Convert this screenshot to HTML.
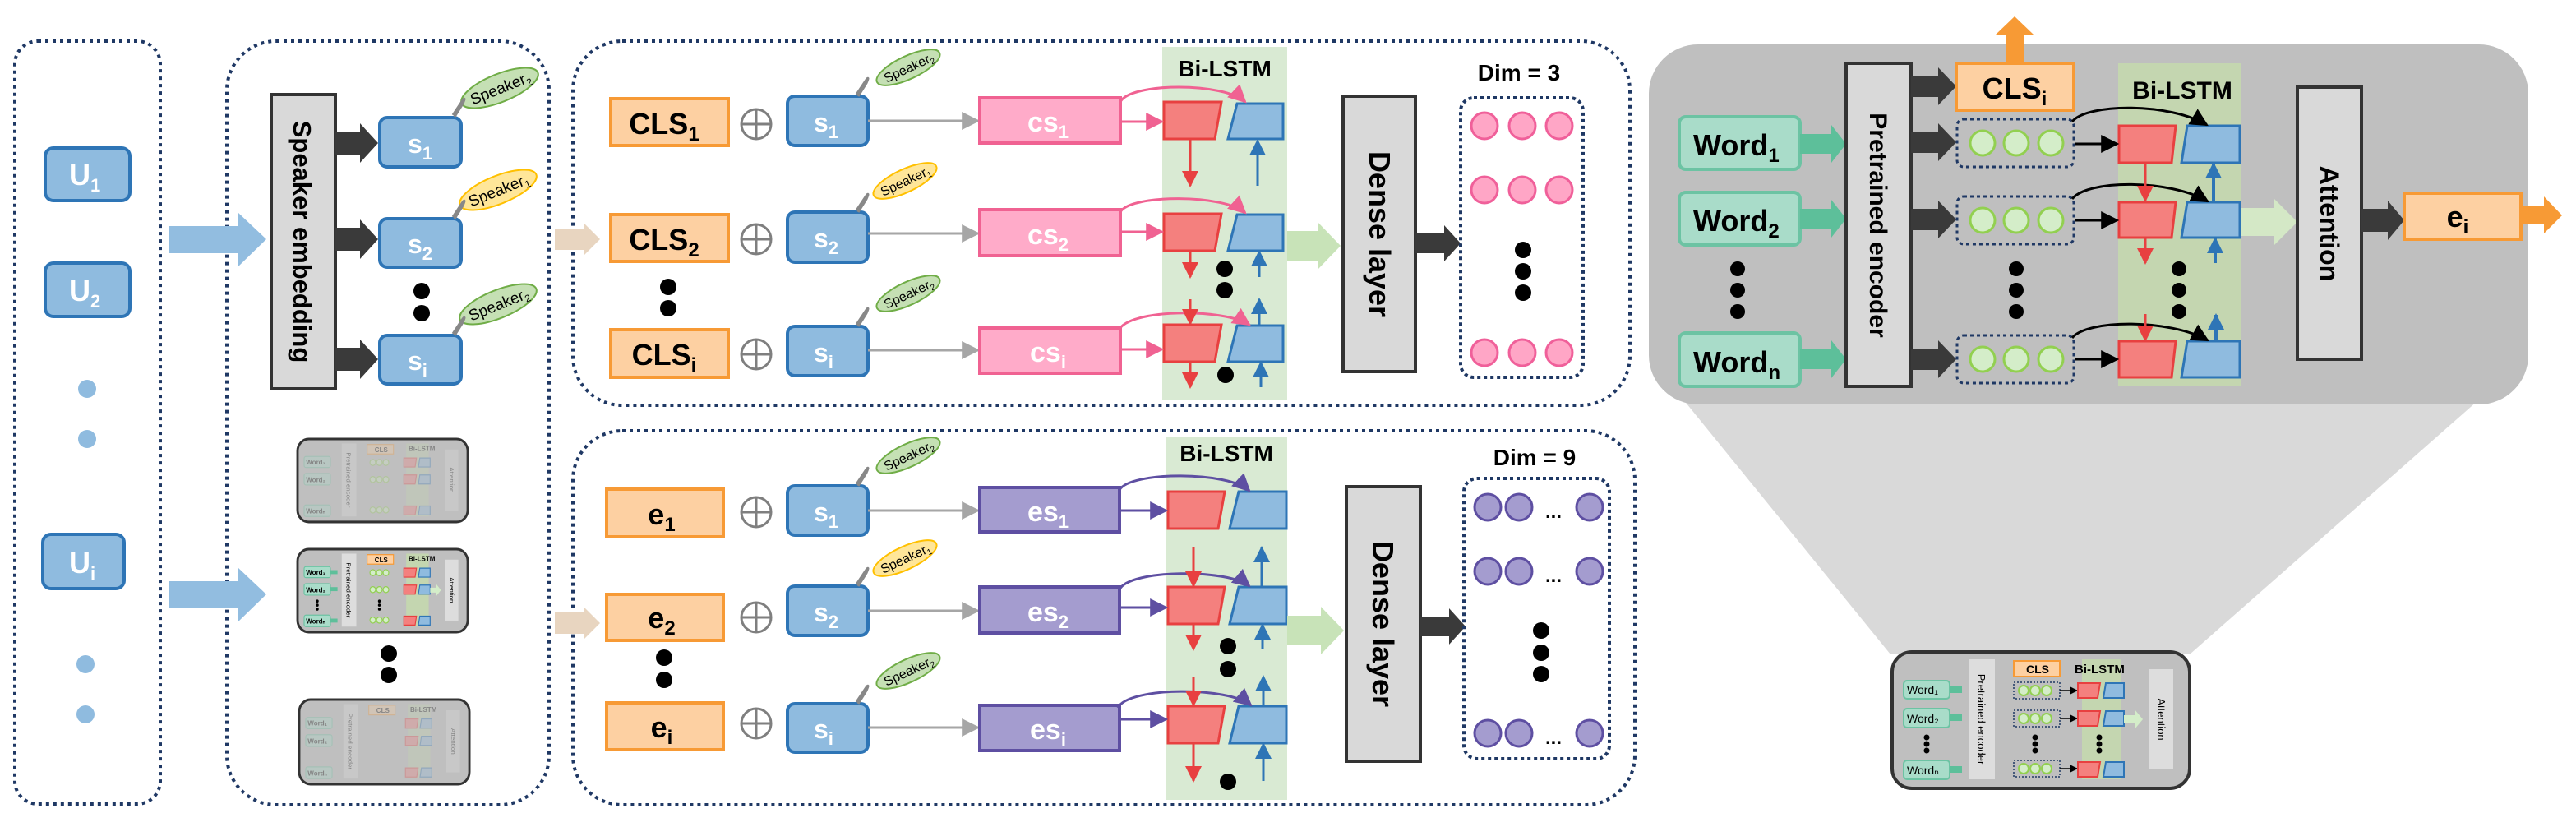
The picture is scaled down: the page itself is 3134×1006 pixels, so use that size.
<!DOCTYPE html>
<html><head><meta charset="utf-8"><style>
html,body{margin:0;padding:0;background:#fff;}
svg{display:block;font-family:"Liberation Sans",sans-serif;}
.b{font-weight:bold;}
</style></head><body>
<svg width="3134" height="1006" viewBox="0 0 3134 1006" xmlns="http://www.w3.org/2000/svg">
<defs>
<marker id="mg" markerWidth="8" markerHeight="8" refX="7" refY="4" orient="auto" markerUnits="userSpaceOnUse"><path d="M0,0 L0,0" /></marker>
<marker id="ag" viewBox="0 0 10 10" refX="9" refY="5" markerWidth="22" markerHeight="22" orient="auto" markerUnits="userSpaceOnUse"><path d="M0,0 L10,5 L0,10 z" fill="#a6a6a6"/></marker>
<marker id="ap" viewBox="0 0 10 10" refX="9" refY="5" markerWidth="22" markerHeight="22" orient="auto" markerUnits="userSpaceOnUse"><path d="M0,0 L10,5 L0,10 z" fill="#f06292"/></marker>
<marker id="au" viewBox="0 0 10 10" refX="9" refY="5" markerWidth="22" markerHeight="22" orient="auto" markerUnits="userSpaceOnUse"><path d="M0,0 L10,5 L0,10 z" fill="#5e4fa2"/></marker>
<marker id="ar" viewBox="0 0 10 10" refX="9" refY="5" markerWidth="20" markerHeight="20" orient="auto" markerUnits="userSpaceOnUse"><path d="M0,0 L10,5 L0,10 z" fill="#e84040"/></marker>
<marker id="ab" viewBox="0 0 10 10" refX="9" refY="5" markerWidth="20" markerHeight="20" orient="auto" markerUnits="userSpaceOnUse"><path d="M0,0 L10,5 L0,10 z" fill="#2e75b6"/></marker>
<marker id="ak" viewBox="0 0 10 10" refX="9" refY="5" markerWidth="22" markerHeight="22" orient="auto" markerUnits="userSpaceOnUse"><path d="M0,0 L10,5 L0,10 z" fill="#000"/></marker>
<marker id="ak2" viewBox="0 0 10 10" refX="9" refY="5" markerWidth="10" markerHeight="10" orient="auto" markerUnits="userSpaceOnUse"><path d="M0,0 L10,5 L0,10 z" fill="#000"/></marker>
</defs>

<!-- dotted containers -->
<g fill="none" stroke="#1f3864" stroke-width="4" stroke-dasharray="4,5">
<rect x="18" y="50" width="177" height="928" rx="28"/>
<rect x="276" y="50" width="392" height="929" rx="60"/>
<rect x="697" y="50" width="1286" height="443" rx="60"/>
<rect x="697" y="524" width="1292" height="455" rx="60"/>
</g>

<!-- U column -->
<g fill="#8fbbdf" stroke="#2e75b6" stroke-width="4">
<rect x="55" y="180" width="103" height="64" rx="10"/>
<rect x="55" y="320" width="103" height="65" rx="10"/>
<rect x="52" y="650" width="99" height="66" rx="10"/>
</g>
<g fill="#fff" class="b" font-size="36">
<text x="84" y="225">U<tspan font-size="22" dy="8">1</tspan></text>
<text x="84" y="366">U<tspan font-size="22" dy="8">2</tspan></text>
<text x="84" y="697">U<tspan font-size="22" dy="8">i</tspan></text>
</g>
<g fill="#8fbbdf">
<circle cx="106" cy="473" r="11"/><circle cx="106" cy="534" r="11"/>
<circle cx="104" cy="808" r="11"/><circle cx="104" cy="869" r="11"/>
</g>
<g fill="#92bde0">
<polygon points="205,275 289,275 289,258 324,291 289,325 289,308 205,308"/>
<polygon points="205,707 289,707 289,690 324,723 289,757 289,740 205,740"/>
</g>

<!-- Speaker embedding -->
<rect x="330" y="115" width="78" height="358" fill="#d9d9d9" stroke="#333" stroke-width="4"/>
<text transform="translate(357,294) rotate(90)" text-anchor="middle" class="b" font-size="31" fill="#000">Speaker embedding</text>
<g fill="#3a3a3a">
<polygon points="408,160 438,160 438,150 460,174 438,198 438,188 408,188"/>
<polygon points="408,277 438,277 438,267 460,291 438,315 438,305 408,305"/>
<polygon points="408,423 438,423 438,413 460,437 438,461 438,451 408,451"/>
</g>
<g fill="#8fbbdf" stroke="#2e75b6" stroke-width="4">
<rect x="462" y="143" width="99" height="60" rx="9"/>
<rect x="462" y="266" width="99" height="59" rx="9"/>
<rect x="462" y="408" width="99" height="59" rx="9"/>
</g>
<g fill="#fff" class="b" font-size="32">
<text x="496" y="186">s<tspan font-size="22" dy="8">1</tspan></text>
<text x="496" y="308">s<tspan font-size="22" dy="8">2</tspan></text>
<text x="496" y="450">s<tspan font-size="22" dy="8">i</tspan></text>
</g>
<circle cx="513" cy="354" r="10"/><circle cx="513" cy="381" r="10"/>

<!-- speaker tags col1 -->
<g font-size="19" fill="#000">
<g transform="translate(608,107) rotate(-22)"><ellipse rx="50" ry="17" fill="#c5e0b4" stroke="#70ad47" stroke-width="2"/><text x="-38" y="7">Speaker<tspan font-size="12" dy="4">2</tspan></text></g>
<g transform="translate(606,231) rotate(-22)"><ellipse rx="50" ry="17" fill="#ffe699" stroke="#ffc000" stroke-width="2"/><text x="-38" y="7">Speaker<tspan font-size="12" dy="4">1</tspan></text></g>
<g transform="translate(606,370) rotate(-22)"><ellipse rx="50" ry="17" fill="#c5e0b4" stroke="#70ad47" stroke-width="2"/><text x="-38" y="7">Speaker<tspan font-size="12" dy="4">2</tspan></text></g>
</g>
<g fill="none" stroke="#888" stroke-width="3">
<path d="M551,140 L563,122 Q567,117 563,126 L553,142"/>
<path d="M551,264 L563,246 Q567,241 563,250 L553,266"/>
<path d="M551,406 L563,388 Q567,383 563,392 L553,408"/>
</g>

<!-- mini thumbnails (middle) -->
<g id="m1" transform="translate(362,534) scale(0.572,0.608)">
<rect x="0" y="0" width="362" height="166" rx="24" fill="#bfbfbf" stroke="#333" stroke-width="5"/>
<g opacity="0.3">
<rect x="94" y="9" width="31" height="146" fill="#ddd"/>
<rect x="231" y="9" width="48" height="146" fill="#c4d6b0"/>
<rect x="148" y="11" width="56" height="19" fill="#fdd0a2" stroke="#f79a35" stroke-width="2"/>
<text x="164" y="26" font-size="14" class="b">CLS</text>
<text x="236" y="24" font-size="14" class="b">Bi-LSTM</text>
<g fill="#a9dcc9" stroke="#6cc3a3" stroke-width="2"><rect x="14" y="35" width="56" height="22" rx="4"/><rect x="14" y="69" width="56" height="23" rx="4"/><rect x="14" y="132" width="56" height="23" rx="4"/></g>
<g font-size="14" class="b"><text x="18" y="51">Word₁</text><text x="18" y="86">Word₂</text><text x="18" y="149">Wordₙ</text></g>
<g fill="#d4edc9" stroke="#92d050" stroke-width="2"><circle cx="160" cy="47" r="6"/><circle cx="174" cy="47" r="6"/><circle cx="188" cy="47" r="6"/><circle cx="160" cy="81" r="6"/><circle cx="174" cy="81" r="6"/><circle cx="188" cy="81" r="6"/><circle cx="160" cy="142" r="6"/><circle cx="174" cy="142" r="6"/><circle cx="188" cy="142" r="6"/></g>
<g fill="#f4807e" stroke="#e84040" stroke-width="2"><polygon points="226,38 253,38 250,56 226,56"/><polygon points="226,72 253,72 250,90 226,90"/><polygon points="226,134 253,134 250,152 226,152"/></g>
<g fill="#8fbbdf" stroke="#2e75b6" stroke-width="2"><polygon points="260,38 282,38 282,56 257,56"/><polygon points="260,72 282,72 282,90 257,90"/><polygon points="260,134 282,134 282,152 257,152"/></g>
<rect x="313" y="21" width="29" height="122" fill="#ddd"/>
<text transform="translate(323,82) rotate(90)" text-anchor="middle" font-size="13">Attention</text>
<text transform="translate(104,82) rotate(90)" text-anchor="middle" font-size="13">Pretrained encoder</text>
</g>
</g>
<g transform="translate(362,668) scale(0.572,0.608)">
<rect x="0" y="0" width="362" height="166" rx="24" fill="#bfbfbf" stroke="#333" stroke-width="5"/>
<rect x="94" y="9" width="31" height="146" fill="#ddd"/>
<rect x="231" y="9" width="48" height="146" fill="#c4d6b0"/>
<rect x="148" y="11" width="56" height="19" fill="#fdd0a2" stroke="#f79a35" stroke-width="2"/>
<text x="164" y="26" font-size="14" class="b">CLS</text>
<text x="236" y="24" font-size="14" class="b">Bi-LSTM</text>
<g fill="#a9dcc9" stroke="#6cc3a3" stroke-width="2"><rect x="14" y="35" width="56" height="22" rx="4"/><rect x="14" y="69" width="56" height="23" rx="4"/><rect x="14" y="132" width="56" height="23" rx="4"/></g>
<g font-size="14" class="b"><text x="18" y="51">Word₁</text><text x="18" y="86">Word₂</text><text x="18" y="149">Wordₙ</text></g>
<g fill="#5dbf9a"><rect x="70" y="42" width="15" height="8"/><rect x="70" y="76" width="15" height="8"/><rect x="70" y="139" width="15" height="8"/></g>
<g fill="#d4edc9" stroke="#92d050" stroke-width="2"><circle cx="160" cy="47" r="6"/><circle cx="174" cy="47" r="6"/><circle cx="188" cy="47" r="6"/><circle cx="160" cy="81" r="6"/><circle cx="174" cy="81" r="6"/><circle cx="188" cy="81" r="6"/><circle cx="160" cy="142" r="6"/><circle cx="174" cy="142" r="6"/><circle cx="188" cy="142" r="6"/></g>
<g fill="#f4807e" stroke="#e84040" stroke-width="2"><polygon points="226,38 253,38 250,56 226,56"/><polygon points="226,72 253,72 250,90 226,90"/><polygon points="226,134 253,134 250,152 226,152"/></g>
<g fill="#8fbbdf" stroke="#2e75b6" stroke-width="2"><polygon points="260,38 282,38 282,56 257,56"/><polygon points="260,72 282,72 282,90 257,90"/><polygon points="260,134 282,134 282,152 257,152"/></g>
<polygon points="282,77 295,77 295,70 305,82 295,94 295,87 282,87" fill="#d4edc9"/>
<rect x="313" y="21" width="29" height="122" fill="#ddd"/>
<text transform="translate(323,82) rotate(90)" text-anchor="middle" font-size="13">Attention</text>
<text transform="translate(104,82) rotate(90)" text-anchor="middle" font-size="13">Pretrained encoder</text>
<g fill="#000"><circle cx="42" cy="104" r="3"/><circle cx="42" cy="112" r="3"/><circle cx="42" cy="120" r="3"/><circle cx="174" cy="104" r="3"/><circle cx="174" cy="112" r="3"/><circle cx="174" cy="120" r="3"/></g>
</g>
<circle cx="473" cy="795" r="10"/><circle cx="473" cy="821" r="10"/>
<g transform="translate(364,851) scale(0.572,0.62)">
<rect x="0" y="0" width="362" height="166" rx="24" fill="#bfbfbf" stroke="#333" stroke-width="5"/>
<g opacity="0.3">
<rect x="94" y="9" width="31" height="146" fill="#ddd"/>
<rect x="231" y="9" width="48" height="146" fill="#c4d6b0"/>
<rect x="148" y="11" width="56" height="19" fill="#fdd0a2" stroke="#f79a35" stroke-width="2"/>
<text x="164" y="26" font-size="14" class="b">CLS</text>
<text x="236" y="24" font-size="14" class="b">Bi-LSTM</text>
<g fill="#a9dcc9" stroke="#6cc3a3" stroke-width="2"><rect x="14" y="35" width="56" height="22" rx="4"/><rect x="14" y="69" width="56" height="23" rx="4"/><rect x="14" y="132" width="56" height="23" rx="4"/></g>
<g font-size="14" class="b"><text x="18" y="51">Word₁</text><text x="18" y="86">Word₂</text><text x="18" y="149">Wordₙ</text></g>
<g fill="#f4807e" stroke="#e84040" stroke-width="2"><polygon points="226,38 253,38 250,56 226,56"/><polygon points="226,72 253,72 250,90 226,90"/><polygon points="226,134 253,134 250,152 226,152"/></g>
<g fill="#8fbbdf" stroke="#2e75b6" stroke-width="2"><polygon points="260,38 282,38 282,56 257,56"/><polygon points="260,72 282,72 282,90 257,90"/><polygon points="260,134 282,134 282,152 257,152"/></g>
<rect x="313" y="21" width="29" height="122" fill="#ddd"/>
<text transform="translate(323,82) rotate(90)" text-anchor="middle" font-size="13">Attention</text>
<text transform="translate(104,82) rotate(90)" text-anchor="middle" font-size="13">Pretrained encoder</text>
</g>
</g>

<!-- beige arrows -->
<g fill="#e8d5c0">
<polygon points="675,278 710,278 710,271 730,291 710,311 710,304 675,304"/>
<polygon points="675,745 710,745 710,738 730,758 710,778 710,771 675,771"/>
</g>

<!-- TOP BOX -->
<g fill="#fdd0a2" stroke="#f79a35" stroke-width="4">
<rect x="743" y="120" width="143" height="57"/>
<rect x="743" y="261" width="143" height="57"/>
<rect x="743" y="401" width="143" height="58"/>
<rect x="738" y="595" width="142" height="58"/>
<rect x="738" y="723" width="142" height="56"/>
<rect x="738" y="855" width="142" height="57"/>
</g>
<g class="b" font-size="36" fill="#000" text-anchor="middle">
<text x="808" y="163">CLS<tspan font-size="24" dy="8">1</tspan></text>
<text x="808" y="304">CLS<tspan font-size="24" dy="8">2</tspan></text>
<text x="808" y="444">CLS<tspan font-size="24" dy="8">i</tspan></text>
<text x="805" y="638">e<tspan font-size="24" dy="8">1</tspan></text>
<text x="805" y="764">e<tspan font-size="24" dy="8">2</tspan></text>
<text x="805" y="897">e<tspan font-size="24" dy="8">i</tspan></text>
</g>
<circle cx="813" cy="349" r="10"/><circle cx="813" cy="375" r="10"/>
<circle cx="808" cy="800" r="10"/><circle cx="808" cy="827" r="10"/>
<g fill="none" stroke="#7f7f7f" stroke-width="3">
<circle cx="920" cy="151" r="18"/><path d="M902,151 H938 M920,133 V169"/>
<circle cx="920" cy="291" r="18"/><path d="M902,291 H938 M920,273 V309"/>
<circle cx="920" cy="431" r="18"/><path d="M902,431 H938 M920,413 V449"/>
<circle cx="920" cy="623" r="18"/><path d="M902,623 H938 M920,605 V641"/>
<circle cx="920" cy="751" r="18"/><path d="M902,751 H938 M920,733 V769"/>
<circle cx="920" cy="880" r="18"/><path d="M902,880 H938 M920,862 V898"/>
</g>
<g fill="#8fbbdf" stroke="#2e75b6" stroke-width="4">
<rect x="958" y="117" width="98" height="60" rx="9"/>
<rect x="958" y="258" width="98" height="61" rx="9"/>
<rect x="958" y="397" width="98" height="60" rx="9"/>
<rect x="958" y="591" width="98" height="60" rx="9"/>
<rect x="958" y="713" width="98" height="60" rx="9"/>
<rect x="958" y="856" width="98" height="59" rx="9"/>
</g>
<g fill="#fff" class="b" font-size="32">
<text x="990" y="160">s<tspan font-size="22" dy="8">1</tspan></text>
<text x="990" y="301">s<tspan font-size="22" dy="8">2</tspan></text>
<text x="990" y="440">s<tspan font-size="22" dy="8">i</tspan></text>
<text x="990" y="634">s<tspan font-size="22" dy="8">1</tspan></text>
<text x="990" y="756">s<tspan font-size="22" dy="8">2</tspan></text>
<text x="990" y="898">s<tspan font-size="22" dy="8">i</tspan></text>
</g>
<g font-size="16" fill="#000">
<g transform="translate(1105,82) rotate(-25)"><ellipse rx="42" ry="14" fill="#c5e0b4" stroke="#70ad47" stroke-width="2"/><text x="-32" y="6">Speaker<tspan font-size="10" dy="3">2</tspan></text></g>
<g transform="translate(1101,220) rotate(-25)"><ellipse rx="42" ry="14" fill="#ffe699" stroke="#ffc000" stroke-width="2"/><text x="-32" y="6">Speaker<tspan font-size="10" dy="3">1</tspan></text></g>
<g transform="translate(1105,357) rotate(-25)"><ellipse rx="42" ry="14" fill="#c5e0b4" stroke="#70ad47" stroke-width="2"/><text x="-32" y="6">Speaker<tspan font-size="10" dy="3">2</tspan></text></g>
<g transform="translate(1105,554) rotate(-25)"><ellipse rx="42" ry="14" fill="#c5e0b4" stroke="#70ad47" stroke-width="2"/><text x="-32" y="6">Speaker<tspan font-size="10" dy="3">2</tspan></text></g>
<g transform="translate(1101,679) rotate(-25)"><ellipse rx="42" ry="14" fill="#ffe699" stroke="#ffc000" stroke-width="2"/><text x="-32" y="6">Speaker<tspan font-size="10" dy="3">1</tspan></text></g>
<g transform="translate(1105,816) rotate(-25)"><ellipse rx="42" ry="14" fill="#c5e0b4" stroke="#70ad47" stroke-width="2"/><text x="-32" y="6">Speaker<tspan font-size="10" dy="3">2</tspan></text></g>
</g>
<g fill="none" stroke="#888" stroke-width="3">
<path d="M1042,115 L1054,97 Q1058,92 1054,101 L1044,117"/>
<path d="M1042,256 L1054,238 Q1058,233 1054,242 L1044,258"/>
<path d="M1042,395 L1054,377 Q1058,372 1054,381 L1044,397"/>
<path d="M1042,589 L1054,571 Q1058,566 1054,575 L1044,591"/>
<path d="M1042,711 L1054,693 Q1058,688 1054,697 L1044,713"/>
<path d="M1042,854 L1054,836 Q1058,831 1054,840 L1044,856"/>
</g>
<g stroke="#a6a6a6" stroke-width="3" marker-end="url(#ag)">
<line x1="1056" y1="147" x2="1190" y2="147"/>
<line x1="1056" y1="284" x2="1190" y2="284"/>
<line x1="1056" y1="426" x2="1190" y2="426"/>
<line x1="1056" y1="621" x2="1190" y2="621"/>
<line x1="1056" y1="743" x2="1190" y2="743"/>
<line x1="1056" y1="885" x2="1190" y2="885"/>
</g>
<g fill="#ffabc9" stroke="#f06292" stroke-width="4">
<rect x="1192" y="119" width="171" height="55"/>
<rect x="1192" y="255" width="171" height="56"/>
<rect x="1192" y="399" width="171" height="55"/>
</g>
<g fill="#a49ccf" stroke="#5e4fa2" stroke-width="4">
<rect x="1192" y="593" width="170" height="54"/>
<rect x="1192" y="714" width="170" height="56"/>
<rect x="1192" y="858" width="170" height="55"/>
</g>
<g fill="#fff" class="b" font-size="34" text-anchor="middle">
<text x="1275" y="160">cs<tspan font-size="22" dy="8">1</tspan></text>
<text x="1275" y="297">cs<tspan font-size="22" dy="8">2</tspan></text>
<text x="1275" y="440">cs<tspan font-size="22" dy="8">i</tspan></text>
<text x="1275" y="634">es<tspan font-size="22" dy="8">1</tspan></text>
<text x="1275" y="756">es<tspan font-size="22" dy="8">2</tspan></text>
<text x="1275" y="899">es<tspan font-size="22" dy="8">i</tspan></text>
</g>

<!-- Bi-LSTM bands -->
<rect x="1414" y="57" width="152" height="429" fill="#d9ead3"/>
<rect x="1419" y="531" width="147" height="442" fill="#d9ead3"/>
<g class="b" font-size="28" text-anchor="middle" fill="#000">
<text x="1490" y="93">Bi-LSTM</text>
<text x="1492" y="561">Bi-LSTM</text>
</g>
<!-- top LSTM cells -->
<g fill="#f4807e" stroke="#e84040" stroke-width="3">
<polygon points="1416,124 1486,124 1478,169 1416,169"/>
<polygon points="1416,260 1486,260 1478,305 1416,305"/>
<polygon points="1416,395 1486,395 1478,440 1416,440"/>
<polygon points="1421,598 1490,598 1482,643 1421,643"/>
<polygon points="1421,714 1490,714 1482,759 1421,759"/>
<polygon points="1421,859 1490,859 1482,904 1421,904"/>
</g>
<g fill="#8fbbdf" stroke="#2e75b6" stroke-width="3">
<polygon points="1505,126 1561,126 1561,169 1494,169"/>
<polygon points="1505,261 1561,261 1561,305 1494,305"/>
<polygon points="1505,396 1561,396 1561,440 1494,440"/>
<polygon points="1507,598 1565,598 1565,643 1496,643"/>
<polygon points="1507,714 1565,714 1565,759 1496,759"/>
<polygon points="1507,859 1565,859 1565,904 1496,904"/>
</g>
<g stroke="#f06292" stroke-width="3" fill="none" marker-end="url(#ap)">
<line x1="1363" y1="148" x2="1414" y2="148"/>
<line x1="1363" y1="282" x2="1414" y2="282"/>
<line x1="1363" y1="425" x2="1414" y2="425"/>
<path d="M1363,124 C1375,100 1490,100 1515,124"/>
<path d="M1363,258 C1375,236 1490,236 1515,259"/>
<path d="M1361,402 C1373,375 1490,375 1520,395"/>
</g>
<g stroke="#5e4fa2" stroke-width="3" fill="none" marker-end="url(#au)">
<line x1="1362" y1="621" x2="1419" y2="621"/>
<line x1="1362" y1="739" x2="1419" y2="739"/>
<line x1="1362" y1="875" x2="1419" y2="875"/>
<path d="M1362,596 C1375,573 1495,573 1520,597"/>
<path d="M1362,717 C1375,692 1495,692 1520,713"/>
<path d="M1360,861 C1373,835 1495,835 1522,858"/>
</g>
<g stroke="#e84040" stroke-width="3" marker-end="url(#ar)">
<line x1="1448" y1="169" x2="1448" y2="226"/>
<line x1="1448" y1="305" x2="1448" y2="337"/>
<line x1="1448" y1="364" x2="1448" y2="394"/>
<line x1="1448" y1="440" x2="1448" y2="471"/>
<line x1="1452" y1="666" x2="1452" y2="713"/>
<line x1="1452" y1="759" x2="1452" y2="790"/>
<line x1="1452" y1="823" x2="1452" y2="858"/>
<line x1="1452" y1="904" x2="1452" y2="950"/>
</g>
<g stroke="#2e75b6" stroke-width="3" marker-end="url(#ab)">
<line x1="1530" y1="226" x2="1530" y2="171"/>
<line x1="1532" y1="337" x2="1532" y2="306"/>
<line x1="1532" y1="395" x2="1532" y2="364"/>
<line x1="1534" y1="471" x2="1534" y2="441"/>
<line x1="1535" y1="714" x2="1535" y2="666"/>
<line x1="1536" y1="790" x2="1536" y2="760"/>
<line x1="1537" y1="859" x2="1537" y2="823"/>
<line x1="1537" y1="950" x2="1537" y2="905"/>
</g>
<g fill="#000">
<circle cx="1490" cy="327" r="10"/><circle cx="1490" cy="353" r="10"/><circle cx="1491" cy="456" r="10"/>
<circle cx="1494" cy="786" r="10"/><circle cx="1494" cy="814" r="10"/><circle cx="1494" cy="951" r="10"/>
</g>
<g fill="#c8e3b8">
<polygon points="1566,281 1603,281 1603,270 1631,299 1603,328 1603,317 1566,317"/>
<polygon points="1566,749 1607,749 1607,738 1635,767 1607,796 1607,785 1566,785"/>
</g>
<g fill="#d9d9d9" stroke="#333" stroke-width="4">
<rect x="1634" y="117" width="88" height="335"/>
<rect x="1638" y="592" width="90" height="334"/>
</g>
<g class="b" font-size="36" text-anchor="middle" fill="#000">
<text transform="translate(1666,285) rotate(90)">Dense layer</text>
<text transform="translate(1670,759) rotate(90)">Dense layer</text>
</g>
<g fill="#3a3a3a">
<polygon points="1722,284 1757,284 1757,274 1777,296 1757,318 1757,308 1722,308"/>
<polygon points="1728,750 1763,750 1763,740 1783,762 1763,784 1763,774 1728,774"/>
</g>
<g fill="none" stroke="#1f3864" stroke-width="4" stroke-dasharray="4,4">
<rect x="1777" y="119" width="149" height="340" rx="16"/>
<rect x="1781" y="582" width="177" height="341" rx="16"/>
</g>
<g class="b" font-size="28" text-anchor="middle" fill="#000">
<text x="1848" y="98">Dim = 3</text>
<text x="1867" y="566">Dim = 9</text>
</g>
<g fill="#ffa6c6" stroke="#f0609a" stroke-width="3">
<circle cx="1806" cy="153" r="16"/><circle cx="1852" cy="153" r="16"/><circle cx="1897" cy="153" r="16"/>
<circle cx="1806" cy="231" r="16"/><circle cx="1852" cy="231" r="16"/><circle cx="1897" cy="231" r="16"/>
<circle cx="1806" cy="429" r="16"/><circle cx="1852" cy="429" r="16"/><circle cx="1897" cy="429" r="16"/>
</g>
<g fill="#a49ccf" stroke="#5e4fa2" stroke-width="3">
<circle cx="1810" cy="617" r="16"/><circle cx="1848" cy="617" r="16"/><circle cx="1934" cy="617" r="16"/>
<circle cx="1810" cy="695" r="16"/><circle cx="1848" cy="695" r="16"/><circle cx="1934" cy="695" r="16"/>
<circle cx="1810" cy="892" r="16"/><circle cx="1848" cy="892" r="16"/><circle cx="1934" cy="892" r="16"/>
</g>
<g class="b" font-size="24" fill="#000" text-anchor="middle">
<text x="1890" y="630">...</text><text x="1890" y="708">...</text><text x="1890" y="905">...</text>
</g>
<g fill="#000">
<circle cx="1853" cy="304" r="10"/><circle cx="1853" cy="330" r="10"/><circle cx="1853" cy="356" r="10"/>
<circle cx="1875" cy="767" r="10"/><circle cx="1875" cy="794" r="10"/><circle cx="1875" cy="820" r="10"/>
</g>

<!-- RIGHT PANEL -->
<polygon points="2043,480 3023,480 2664,796 2300,796" fill="#d9d9d9"/>
<rect x="2006" y="54" width="1070" height="438" rx="60" fill="#bfbfbf"/>
<g fill="#a9dcc9" stroke="#6cc3a3" stroke-width="4">
<rect x="2043" y="142" width="147" height="64" rx="8"/>
<rect x="2043" y="234" width="147" height="64" rx="8"/>
<rect x="2043" y="405" width="147" height="65" rx="8"/>
</g>
<g class="b" font-size="36" fill="#000">
<text x="2060" y="189">Word<tspan font-size="24" dy="8">1</tspan></text>
<text x="2060" y="281">Word<tspan font-size="24" dy="8">2</tspan></text>
<text x="2060" y="453">Word<tspan font-size="24" dy="8">n</tspan></text>
</g>
<g fill="#5dbf9a">
<polygon points="2190,163 2228,163 2228,152 2246,175 2228,198 2228,187 2190,187"/>
<polygon points="2190,254 2228,254 2228,243 2246,266 2228,289 2228,278 2190,278"/>
<polygon points="2190,425 2228,425 2228,414 2246,437 2228,460 2228,449 2190,449"/>
</g>
<g fill="#000"><circle cx="2114" cy="327" r="9"/><circle cx="2114" cy="353" r="9"/><circle cx="2114" cy="379" r="9"/></g>
<rect x="2246" y="77" width="79" height="393" fill="#d9d9d9" stroke="#333" stroke-width="4"/>
<text transform="translate(2275,274) rotate(90)" text-anchor="middle" class="b" font-size="30">Pretrained encoder</text>
<g fill="#3a3a3a">
<polygon points="2325,92 2358,92 2358,82 2380,105 2358,128 2358,118 2325,118"/>
<polygon points="2325,160 2358,160 2358,150 2380,173 2358,196 2358,186 2325,186"/>
<polygon points="2325,254 2358,254 2358,244 2380,267 2358,290 2358,280 2325,280"/>
<polygon points="2325,424 2358,424 2358,414 2380,437 2358,460 2358,450 2325,450"/>
</g>
<polygon points="2440,77 2440,42 2428,42 2451,20 2474,42 2463,42 2463,77" fill="#f79a35"/>
<rect x="2380" y="77" width="143" height="57" fill="#fdd0a2" stroke="#f79a35" stroke-width="4"/>
<text x="2451" y="120" text-anchor="middle" class="b" font-size="36">CLS<tspan font-size="24" dy="8">i</tspan></text>
<g fill="none" stroke="#1f3864" stroke-width="3" stroke-dasharray="4,4">
<rect x="2381" y="145" width="142" height="58" rx="8"/>
<rect x="2381" y="239" width="142" height="58" rx="8"/>
<rect x="2381" y="408" width="142" height="58" rx="8"/>
</g>
<g fill="#d4edc9" stroke="#92d050" stroke-width="3">
<circle cx="2412" cy="174" r="15"/><circle cx="2453" cy="174" r="15"/><circle cx="2495" cy="174" r="15"/>
<circle cx="2412" cy="268" r="15"/><circle cx="2453" cy="268" r="15"/><circle cx="2495" cy="268" r="15"/>
<circle cx="2412" cy="437" r="15"/><circle cx="2453" cy="437" r="15"/><circle cx="2495" cy="437" r="15"/>
</g>
<g fill="#000"><circle cx="2453" cy="327" r="9"/><circle cx="2453" cy="353" r="9"/><circle cx="2453" cy="379" r="9"/></g>
<rect x="2577" y="77" width="150" height="393" fill="#c4d6b0"/>
<text x="2655" y="120" text-anchor="middle" class="b" font-size="30">Bi-LSTM</text>
<g fill="#f4807e" stroke="#e84040" stroke-width="3">
<polygon points="2578,153 2647,153 2642,198 2578,198"/>
<polygon points="2578,246 2647,246 2642,289 2578,289"/>
<polygon points="2578,415 2647,415 2642,459 2578,459"/>
</g>
<g fill="#8fbbdf" stroke="#2e75b6" stroke-width="3">
<polygon points="2661,153 2725,153 2725,198 2654,198"/>
<polygon points="2661,246 2725,246 2725,289 2654,289"/>
<polygon points="2661,415 2725,415 2725,459 2654,459"/>
</g>
<g stroke="#000" stroke-width="3" fill="none" marker-end="url(#ak)">
<line x1="2524" y1="175" x2="2576" y2="175"/>
<line x1="2524" y1="268" x2="2576" y2="268"/>
<line x1="2524" y1="437" x2="2576" y2="437"/>
<path d="M2521,148 C2540,125 2640,125 2685,152"/>
<path d="M2521,242 C2540,218 2640,218 2686,245"/>
<path d="M2521,411 C2540,388 2640,388 2686,414"/>
</g>
<g stroke="#e84040" stroke-width="3" marker-end="url(#ar)">
<line x1="2610" y1="198" x2="2610" y2="244"/>
<line x1="2610" y1="289" x2="2610" y2="320"/>
<line x1="2610" y1="382" x2="2610" y2="414"/>
</g>
<g stroke="#2e75b6" stroke-width="4" marker-end="url(#ab)">
<line x1="2693" y1="245" x2="2693" y2="199"/>
<line x1="2695" y1="320" x2="2695" y2="290"/>
<line x1="2696" y1="414" x2="2696" y2="383"/>
</g>
<g fill="#000"><circle cx="2651" cy="327" r="9"/><circle cx="2651" cy="353" r="9"/><circle cx="2651" cy="379" r="9"/></g>
<polygon points="2727,253 2767,253 2767,242 2795,270 2767,298 2767,287 2727,287" fill="#d4e8c6"/>
<rect x="2795" y="106" width="78" height="331" fill="#d9d9d9" stroke="#333" stroke-width="4"/>
<text transform="translate(2823,272) rotate(90)" text-anchor="middle" class="b" font-size="32">Attention</text>
<polygon points="2873,254 2905,254 2905,244 2925,268 2905,292 2905,282 2873,282" fill="#3a3a3a"/>
<rect x="2925" y="235" width="142" height="56" fill="#fdd0a2" stroke="#f79a35" stroke-width="4"/>
<text x="2990" y="276" text-anchor="middle" class="b" font-size="36">e<tspan font-size="24" dy="8">i</tspan></text>
<polygon points="3067,251 3095,251 3095,239 3117,262 3095,284 3095,273 3067,273" fill="#f79a35"/>

<!-- bottom-right thumbnail -->
<g transform="translate(2302,793)">
<rect x="0" y="0" width="362" height="166" rx="24" fill="#bfbfbf" stroke="#333" stroke-width="4"/>
<rect x="94" y="9" width="31" height="146" fill="#ddd"/>
<rect x="231" y="9" width="48" height="146" fill="#c4d6b0"/>
<rect x="148" y="11" width="56" height="19" fill="#fdd0a2" stroke="#f79a35" stroke-width="2"/>
<text x="163" y="26" font-size="14" class="b">CLS</text>
<text x="222" y="26" font-size="15" class="b">Bi-LSTM</text>
<g fill="#a9dcc9" stroke="#6cc3a3" stroke-width="2"><rect x="14" y="35" width="56" height="22" rx="4"/><rect x="14" y="69" width="56" height="23" rx="4"/><rect x="14" y="132" width="56" height="23" rx="4"/></g>
<g font-size="14"><text x="18" y="51">Word₁</text><text x="18" y="86">Word₂</text><text x="18" y="149">Wordₙ</text></g>
<g fill="#5dbf9a"><rect x="70" y="42" width="15" height="8"/><rect x="70" y="76" width="15" height="8"/><rect x="70" y="139" width="15" height="8"/></g>
<g fill="none" stroke="#1f3864" stroke-width="1.5" stroke-dasharray="2,2"><rect x="148" y="37" width="56" height="20"/><rect x="148" y="71" width="56" height="20"/><rect x="148" y="132" width="56" height="20"/></g>
<g fill="#d4edc9" stroke="#92d050" stroke-width="2"><circle cx="160" cy="47" r="6"/><circle cx="174" cy="47" r="6"/><circle cx="188" cy="47" r="6"/><circle cx="160" cy="81" r="6"/><circle cx="174" cy="81" r="6"/><circle cx="188" cy="81" r="6"/><circle cx="160" cy="142" r="6"/><circle cx="174" cy="142" r="6"/><circle cx="188" cy="142" r="6"/></g>
<g stroke="#000" stroke-width="1.5" marker-end="url(#ak2)"><line x1="204" y1="47" x2="225" y2="47"/><line x1="204" y1="81" x2="225" y2="81"/><line x1="204" y1="142" x2="225" y2="142"/></g>
<g fill="#f4807e" stroke="#e84040" stroke-width="2"><polygon points="226,38 253,38 250,56 226,56"/><polygon points="226,72 253,72 250,90 226,90"/><polygon points="226,134 253,134 250,152 226,152"/></g>
<g fill="#8fbbdf" stroke="#2e75b6" stroke-width="2"><polygon points="260,38 282,38 282,56 257,56"/><polygon points="260,72 282,72 282,90 257,90"/><polygon points="260,134 282,134 282,152 257,152"/></g>
<polygon points="282,77 295,77 295,70 305,82 295,94 295,87 282,87" fill="#d4edc9"/>
<rect x="313" y="21" width="29" height="122" fill="#ddd"/>
<text transform="translate(323,82) rotate(90)" text-anchor="middle" font-size="13">Attention</text>
<text transform="translate(104,82) rotate(90)" text-anchor="middle" font-size="13">Pretrained encoder</text>
<g fill="#000"><circle cx="42" cy="104" r="3.5"/><circle cx="42" cy="112" r="3.5"/><circle cx="42" cy="120" r="3.5"/><circle cx="174" cy="104" r="3.5"/><circle cx="174" cy="112" r="3.5"/><circle cx="174" cy="120" r="3.5"/><circle cx="252" cy="104" r="3.5"/><circle cx="252" cy="112" r="3.5"/><circle cx="252" cy="120" r="3.5"/></g>
</g>
</svg>
</body></html>
